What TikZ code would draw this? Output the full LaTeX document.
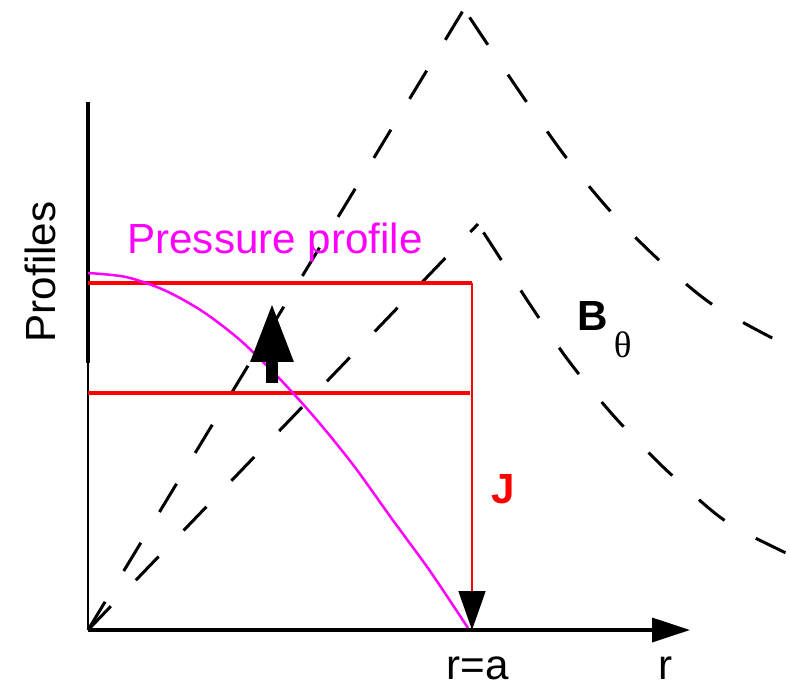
\documentclass[tikz,border=0pt]{standalone}
\usepackage{fontspec}
\setmainfont{Liberation Sans}
\newfontfamily\greekfont{Liberation Serif}
\usetikzlibrary{arrows.meta}
\definecolor{prmagenta}{HTML}{FF00FF}
\definecolor{prred}{HTML}{FF0000}

\begin{document}
\begin{tikzpicture}[x=0.02cm, y=-0.02cm,
    every node/.style={font=\fontsize{24}{28}\selectfont, inner sep=0pt},
    bfield/.style={line width=0.06cm, dash pattern=on 0.66cm off 0.72cm},
    bfieldout/.style={bfield, dash phase=1.18cm}]
    \useasboundingbox (0,0) rectangle (790,687);

    % axes
    \coordinate (O) at (88,630);
    \coordinate (ytop) at (88,102);
    \coordinate (ymid) at (88,363);
    \coordinate (xend) at (690,630);
    \draw[line width=0.07cm] (ytop) -- (ymid);
    \draw[line width=0.035cm] (ymid) -- (O);

    % B_theta profiles
    \coordinate (peakout) at (464,9);
    \coordinate (peakin) at (478,224);
    \draw[bfield] (O) -- (peakout);
    \draw[bfield] (O) -- (peakin);
    \draw[bfieldout] plot[smooth] coordinates {(464,9) (490,48) (528,104) (568,160) (612,213) (660,261) (713,305) (778,341)};
    \draw[bfieldout] plot[smooth] coordinates {(478,224) (500,258) (529,303) (568,360) (612,414) (660,464) (711,510) (740,530) (786,553)};

    % current
    \coordinate (jtop) at (472,283);
    \coordinate (jbot) at (472,630);
    \coordinate (hlone) at (88,283);
    \coordinate (hltwo) at (88,393);
    \coordinate (hltwoend) at (470,393);
    \draw[prred, line width=0.07cm] (hlone) -- (jtop);
    \draw[prred, line width=0.07cm] (hltwo) -- (hltwoend);
    \draw[prred, line width=0.035cm, -{Triangle[length=0.78cm, width=0.54cm, color=black]}] (jtop) -- (jbot);

    % pressure
    \draw[prmagenta, line width=0.05cm] plot[smooth] coordinates {(88,273) (126,277) (164,290) (202,311) (240,340) (278,377) (316,419) (354,466) (392,519) (430,571) (468,628)};

    \draw[line width=0.07cm, -{Triangle[length=0.76cm, width=0.48cm]}] (O) -- (xend);

    \coordinate (upfoot) at (272,383);
    \coordinate (uptip) at (272,303);
    \draw[line width=0.24cm, -{Triangle[length=1.18cm, width=0.8cm]}] (upfoot) -- (uptip);

    % labels
    \node[prmagenta, anchor=base] (plabel) at (275,253) {Pressure profile};
    \node[rotate=90, anchor=base] (ylabel) at (55,272) {Profiles};
    \node[anchor=base] (ralabel) at (478,679) {r=a};
    \node[anchor=base] (rlabel) at (666,679) {r};
    \node[prred, anchor=base] (jlabel) at (503,503) {\bfseries J};
    \node[anchor=base west] (blabel) at (577,330) {{\bfseries B}\hspace{0.12cm}\raisebox{-0.54cm}{\greekfont\fontsize{21}{24}\selectfont θ}};
\end{tikzpicture}
\end{document}
